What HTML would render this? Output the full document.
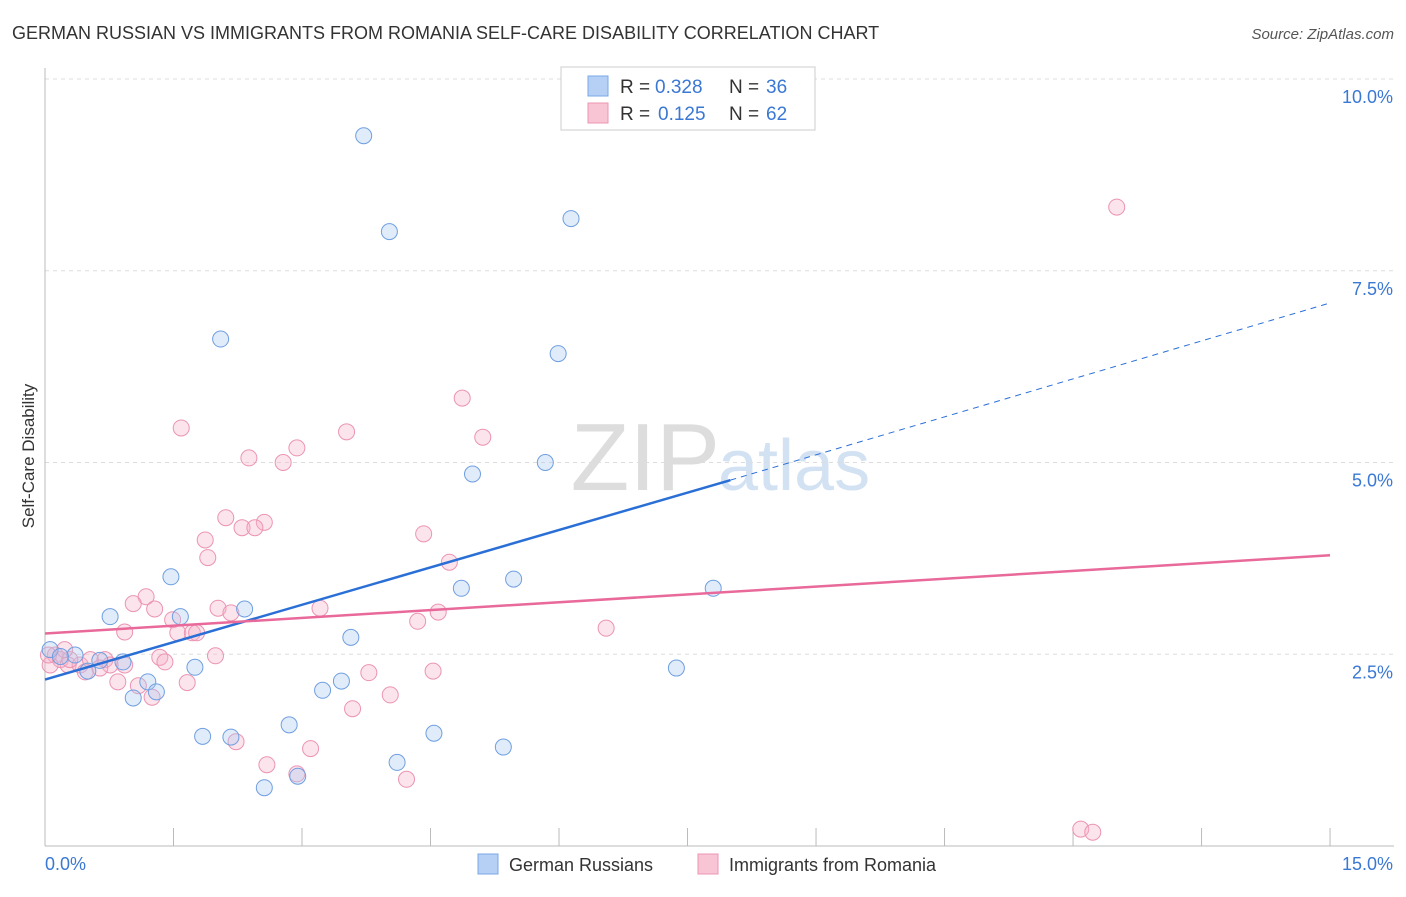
<!DOCTYPE html>
<html><head><meta charset="utf-8"><style>
body{margin:0;background:#fff;font-family:"Liberation Sans",sans-serif;}
svg text{font-family:"Liberation Sans",sans-serif;}
</style></head><body>
<svg id="chart" width="1406" height="892" xmlns="http://www.w3.org/2000/svg">
<text x="12" y="39" font-size="18" fill="#333">GERMAN RUSSIAN VS IMMIGRANTS FROM ROMANIA SELF-CARE DISABILITY CORRELATION CHART</text>
<text x="1394" y="39" font-size="15" fill="#555" text-anchor="end" font-style="italic">Source: ZipAtlas.com</text>
<text x="720" y="490" font-size="96" fill="#ddd" text-anchor="end" font-family="Liberation Serif">ZIP</text>
<text x="718" y="490" font-size="72" fill="#d3e2f3">atlas</text>
<g id="grid"></g>
<g id="axes"></g>
<g id="marks"></g>
<text transform="translate(34,456) rotate(-90)" font-size="17" fill="#333" text-anchor="middle">Self-Care Disability</text>
<g>
<rect x="561" y="67" width="254" height="63" fill="#fff" stroke="#ccc"/>
<rect x="588" y="76" width="20" height="20" fill="#b6d0f5" stroke="#7aa7e5"/>
<text x="620" y="93" font-size="19" fill="#333">R =</text>
<text x="655" y="93" font-size="19" fill="#3a78d4">0.328</text>
<text x="729" y="93" font-size="19" fill="#333">N =</text>
<text x="766" y="93" font-size="19" fill="#3a78d4">36</text>
<rect x="588" y="103" width="20" height="20" fill="#f8c5d5" stroke="#eb94b3"/>
<text x="620" y="120" font-size="19" fill="#333">R =</text>
<text x="658" y="120" font-size="19" fill="#3a78d4">0.125</text>
<text x="729" y="120" font-size="19" fill="#333">N =</text>
<text x="766" y="120" font-size="19" fill="#3a78d4">62</text>
</g>
<g>
<rect x="478" y="854" width="20" height="20" fill="#b6d0f5" stroke="#7aa7e5"/>
<text x="509" y="871" font-size="18" fill="#333">German Russians</text>
<rect x="698" y="854" width="20" height="20" fill="#f8c5d5" stroke="#eb94b3"/>
<text x="729" y="871" font-size="18" fill="#333">Immigrants from Romania</text>
</g>
</svg>
<script>
const yTicks=[2.5,5.0,7.5,10.0];
const xTickLabels=["0.0%","15.0%"];
const blueX=[3.72,4.02,6.14,2.05,5.99,5.84,4.99,1.47,0.76,1.58,2.33,4.86,5.47,7.80,3.57,1.75,7.37,1.20,1.30,1.03,3.24,3.46,2.85,1.84,2.17,4.54,5.35,4.11,2.95,2.56,0.35,0.50,0.64,0.91,0.06,0.18];
const blueY=[9.26,8.01,8.18,6.61,6.42,5.00,4.85,3.51,2.99,2.99,3.09,3.36,3.48,3.36,2.72,2.33,2.32,2.14,2.01,1.93,2.03,2.15,1.58,1.43,1.42,1.47,1.29,1.09,0.91,0.76,2.49,2.28,2.42,2.40,2.56,2.47];
const pinkX=[12.51,4.87,1.59,3.52,5.11,2.94,2.38,2.78,2.11,2.56,2.30,2.45,4.42,1.87,1.90,4.72,1.18,1.03,1.28,2.02,2.17,3.21,4.59,4.35,1.49,1.55,1.72,1.77,0.93,6.55,1.99,1.34,1.40,4.53,3.78,1.66,0.85,1.09,1.25,4.03,3.59,2.23,3.10,2.59,2.94,4.22,12.09,12.23,0.12,0.18,0.27,0.41,0.53,0.70,0.76,0.64,0.06,0.29,0.47,0.93,0.23,0.04];
const pinkY=[8.33,5.84,5.45,5.40,5.33,5.19,5.06,5.00,4.28,4.22,4.15,4.15,4.07,3.99,3.76,3.70,3.25,3.16,3.09,3.10,3.04,3.10,3.05,2.93,2.95,2.78,2.78,2.78,2.79,2.84,2.48,2.46,2.40,2.28,2.26,2.13,2.14,2.09,1.94,1.97,1.79,1.36,1.27,1.06,0.94,0.87,0.22,0.18,2.49,2.43,2.36,2.36,2.43,2.43,2.36,2.32,2.36,2.43,2.27,2.36,2.56,2.49];
const blueLine=[[0,2.17],[8.0,4.77],[15,7.08]];
const pinkLine=[[0,2.77],[15,3.79]];
const NS="http://www.w3.org/2000/svg";
const X=v=>45+v*85.67, Y=v=>846-v*76.7;
function mk(tag,attrs,parent){const e=document.createElementNS(NS,tag);for(const k in attrs)e.setAttribute(k,attrs[k]);document.getElementById(parent).appendChild(e);return e;}
yTicks.forEach(t=>{
 const l=mk('line',{x1:45,x2:1394,y1:Y(t),y2:Y(t),stroke:'#ddd','stroke-dasharray':'4,4'},'grid');
 
 
 const tx=mk('text',{x:1393,y:Y(t)+24,'font-size':18,fill:'#3a78d4','text-anchor':'end'},'axes');
 tx.textContent=t.toFixed(1)+'%';
 
 
});
mk('line',{x1:45,x2:45,y1:68,y2:846,stroke:'#bbb'},'axes');
mk('line',{x1:45,x2:1394,y1:846,y2:846,stroke:'#bbb'},'axes');
for(let i=0;i<=10;i++){const t=i*1.5;mk('line',{x1:X(t),x2:X(t),y1:828,y2:846,stroke:'#bbb'},'axes');}
[[0,'start'],[15,'end']].forEach((p,i)=>{const tx=mk('text',{x:i?1393:45,y:870,'font-size':18,fill:'#3a78d4','text-anchor':p[1]},'axes');tx.textContent=xTickLabels[i];
 
 });
pinkX.forEach((x,i)=>{const c=mk('circle',{cx:X(x),cy:Y(pinkY[i]),r:8,fill:'rgba(246,178,200,0.35)',stroke:'#eb94b3','stroke-width':1},'marks');
 
 });
blueX.forEach((x,i)=>{const c=mk('circle',{cx:X(x),cy:Y(blueY[i]),r:8,fill:'rgba(170,200,240,0.35)',stroke:'#6f9fe0','stroke-width':1},'marks');
 
 });
let l=mk('line',{x1:X(blueLine[0][0]),y1:Y(blueLine[0][1]),x2:X(blueLine[1][0]),y2:Y(blueLine[1][1]),stroke:'#2a6fd6','stroke-width':2.5},'marks');


l=mk('line',{x1:X(blueLine[1][0]),y1:Y(blueLine[1][1]),x2:X(blueLine[2][0]),y2:Y(blueLine[2][1]),stroke:'#2a6fd6','stroke-width':1,'stroke-dasharray':'6,5'},'marks');


l=mk('line',{x1:X(pinkLine[0][0]),y1:Y(pinkLine[0][1]),x2:X(pinkLine[1][0]),y2:Y(pinkLine[1][1]),stroke:'#e8699a','stroke-width':2.5},'marks');


</script>
</body></html>
